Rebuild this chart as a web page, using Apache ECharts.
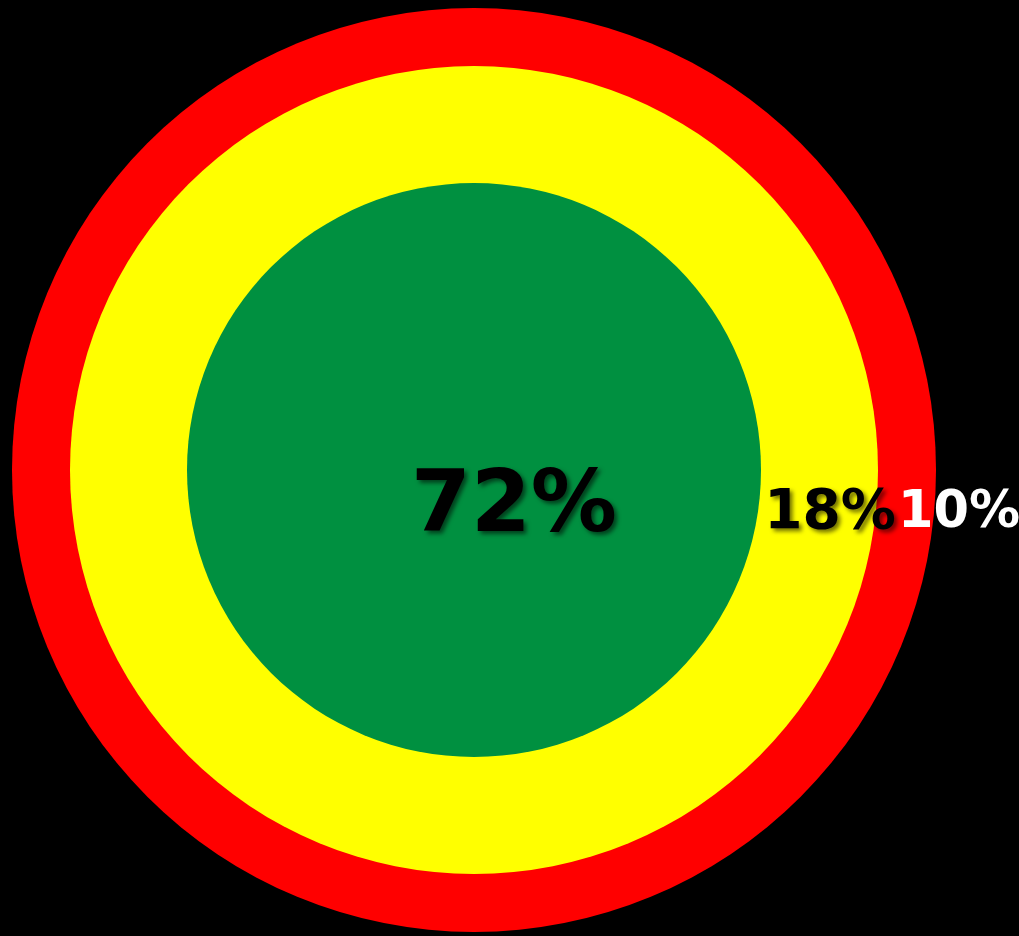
<!DOCTYPE html>
<html>
<head>
<meta charset="utf-8">
<style>
  html, body { margin: 0; padding: 0; background: #000; }
  #main { width: 1019px; height: 936px; }
</style>
<script src="https://cdn.jsdelivr.net/npm/echarts@6/dist/echarts.min.js"></script>
</head>
<body>
<div id="main"></div>
<script>
// 数据
var categories = ['Green', 'Yellow', 'Red'];
var values = [72, 18, 10];
var colors = ['#009040', '#ffff00', '#ff0000'];

// 每个圆的半径和标签位置（相对圆心）
var radii = [287, 404, 462];
var labelShift = [[40, 39], [356, 44], [485, 44]];
var labelColor = ['#000', '#000', '#fff'];
var labelSize = [86, 55, 51];

var series = [];
// 从外往里画，绿色在最上面
for (var i = categories.length - 1; i >= 0; i--) {
    series.push({
        type: 'pie',
        center: [474, 470],
        radius: [0, radii[i]],
        silent: true,
        animation: false,
        avoidLabelOverlap: false,
        itemStyle: { color: colors[i], borderWidth: 0 },
        label: {
            show: true,
            position: 'center',
            formatter: '{c}%',
            color: labelColor[i],
            fontFamily: 'DejaVu Sans',
            fontWeight: 'bold',
            fontSize: labelSize[i],
            textShadowColor: i < 2 ? 'rgba(0,0,0,0.55)' : 'transparent',
            textShadowBlur: 4,
            textShadowOffsetX: 3,
            textShadowOffsetY: 3
        },
        labelLine: { show: false },
        labelLayout: { dx: labelShift[i][0], dy: labelShift[i][1], hideOverlap: false, moveOverlap: null },
        data: [{ name: categories[i], value: values[i] }]
    });
}

var option = {
    backgroundColor: '#000',
    series: series
};

var myChart = echarts.init(document.getElementById('main'));
myChart.setOption(option);
</script>
</body>
</html>
